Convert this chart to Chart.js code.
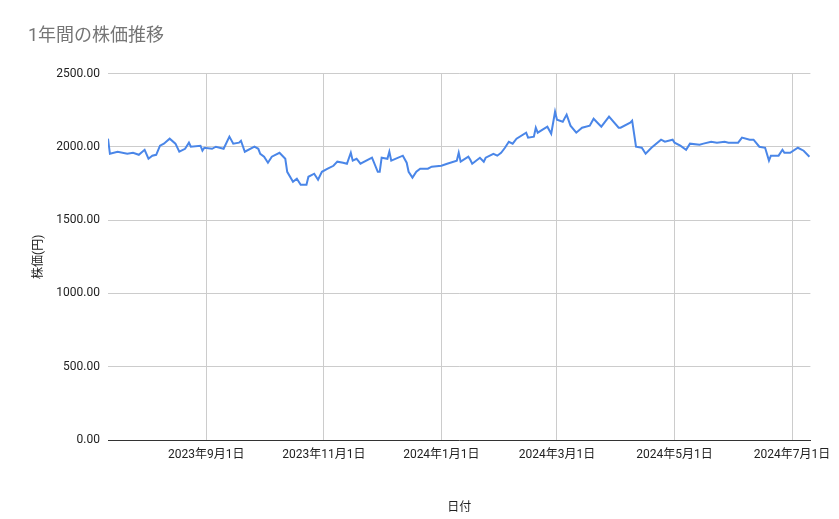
<!DOCTYPE html>
<html>
<head>
<meta charset="utf-8">
<script src="https://cdn.jsdelivr.net/npm/chart.js@4"></script>
<style>
  html, body { margin: 0; padding: 0; background: #fff; }
  #wrap { width: 839px; height: 519px; }
</style>
</head>
<body>
<div id="wrap"><canvas id="stockChart"></canvas></div>
<script>
// days since 2023-07-12
const dayOffsets = [0, 1, 5, 10, 13, 16, 19, 21, 23, 25, 27, 29, 32, 35, 37, 40, 42, 43, 48, 49,
  50, 54, 56, 60, 63, 65, 68, 69, 71, 76, 78, 79, 81, 83, 85, 89, 92, 93, 96, 98,
  100, 103, 104, 107, 109, 111, 114, 117, 119, 122, 124, 126, 127, 129, 131, 137, 140, 141, 142, 145,
  146, 147, 153, 155, 156, 158, 160, 162, 166, 168, 173, 176, 181, 182, 183, 187, 188, 189, 193, 195,
  196, 200, 202, 204, 206, 208, 210, 212, 217, 218, 221, 222, 223, 228, 230, 232, 233, 236, 238, 240,
  243, 246, 250, 252, 256, 260, 265, 266, 271, 272, 274, 277, 279, 282, 287, 289, 293, 294, 297, 300,
  302, 307, 309, 313, 316, 320, 322, 327, 329, 333, 335, 338, 341, 343, 344, 348, 350, 351, 354, 358,
  361, 364];
const prices = [2056, 1953, 1967, 1953, 1960, 1946, 1980, 1919, 1940, 1946, 2008, 2022, 2056, 2022, 1967, 1987, 2029, 2001, 2008, 1974,
  1994, 1987, 2001, 1987, 2070, 2022, 2029, 2042, 1967, 2001, 1987, 1953, 1933, 1892, 1933, 1960, 1919, 1830, 1762, 1783,
  1742, 1742, 1796, 1817, 1776, 1830, 1851, 1871, 1899, 1892, 1885, 1960, 1906, 1919, 1885, 1926, 1830, 1830, 1926, 1919,
  1967, 1906, 1940, 1892, 1830, 1790, 1830, 1851, 1851, 1865, 1871, 1885, 1906, 1960, 1899, 1933, 1912, 1885, 1926, 1899,
  1926, 1953, 1940, 1960, 1994, 2035, 2022, 2056, 2097, 2063, 2070, 2131, 2097, 2138, 2090, 2240, 2186, 2172, 2220, 2145,
  2097, 2131, 2145, 2192, 2138, 2206, 2131, 2131, 2165, 2179, 2001, 1994, 1953, 1994, 2049, 2035, 2049, 2029, 2008, 1980,
  2022, 2015, 2022, 2035, 2029, 2035, 2029, 2029, 2063, 2049, 2049, 2001, 1994, 1906, 1940, 1940, 1980, 1960, 1960, 1994,
  1974, 1933];
const tickDays = [51, 112, 173, 233, 294, 355];
const tickLabels = ['2023年9月1日', '2023年11月1日', '2024年1月1日', '2024年3月1日', '2024年5月1日', '2024年7月1日'];

const points = dayOffsets.map((d, i) => ({ x: d, y: prices[i] }));
const fontFamily = 'Roboto, "Noto Sans CJK JP", sans-serif';

new Chart(document.getElementById('stockChart'), {
    type: 'line',
    data: {
        datasets: [{
            data: points,
            borderColor: '#4a86e8',
            borderWidth: 2,
            pointRadius: 0,
            tension: 0,
            fill: false
        }]
    },
    options: {
        responsive: true,
        maintainAspectRatio: false,
        animation: false,
        layout: { padding: { left: 28, right: 26, top: 0, bottom: 0 } },
        plugins: {
            legend: { display: false },
            tooltip: { enabled: false },
            title: {
                display: true,
                text: '1年間の株価推移',
                align: 'start',
                color: '#757575',
                font: { family: fontFamily, size: 18, weight: 'normal' },
                padding: { top: 26, bottom: 26 }
            }
        },
        scales: {
            x: {
                type: 'linear',
                min: 0,
                max: 364.5,
                afterBuildTicks: (scale) => { scale.ticks = tickDays.map(v => ({ value: v })); },
                afterFit: (scale) => { scale.height = 79; },
                grid: { color: '#cccccc', drawTicks: false },
                border: { color: '#333333' },
                ticks: {
                    color: '#222',
                    font: { family: fontFamily, size: 12 },
                    padding: 8,
                    maxRotation: 0,
                    autoSkip: false,
                    callback: (v) => tickLabels[tickDays.indexOf(v)] || ''
                },
                title: {
                    display: true,
                    text: '日付',
                    color: '#222',
                    font: { family: fontFamily, size: 12 },
                    padding: { top: 18 }
                }
            },
            y: {
                min: 0,
                max: 2500,
                afterFit: (scale) => { scale.width = 80; },
                grid: { color: '#cccccc', drawTicks: false },
                border: { display: false },
                ticks: {
                    stepSize: 500,
                    color: '#222',
                    font: { family: fontFamily, size: 12 },
                    padding: 8,
                    callback: (v) => v.toFixed(2)
                },
                title: {
                    display: true,
                    text: '株価(円)',
                    color: '#222',
                    font: { family: fontFamily, size: 12 }
                }
            }
        }
    }
});
</script>
</body>
</html>
